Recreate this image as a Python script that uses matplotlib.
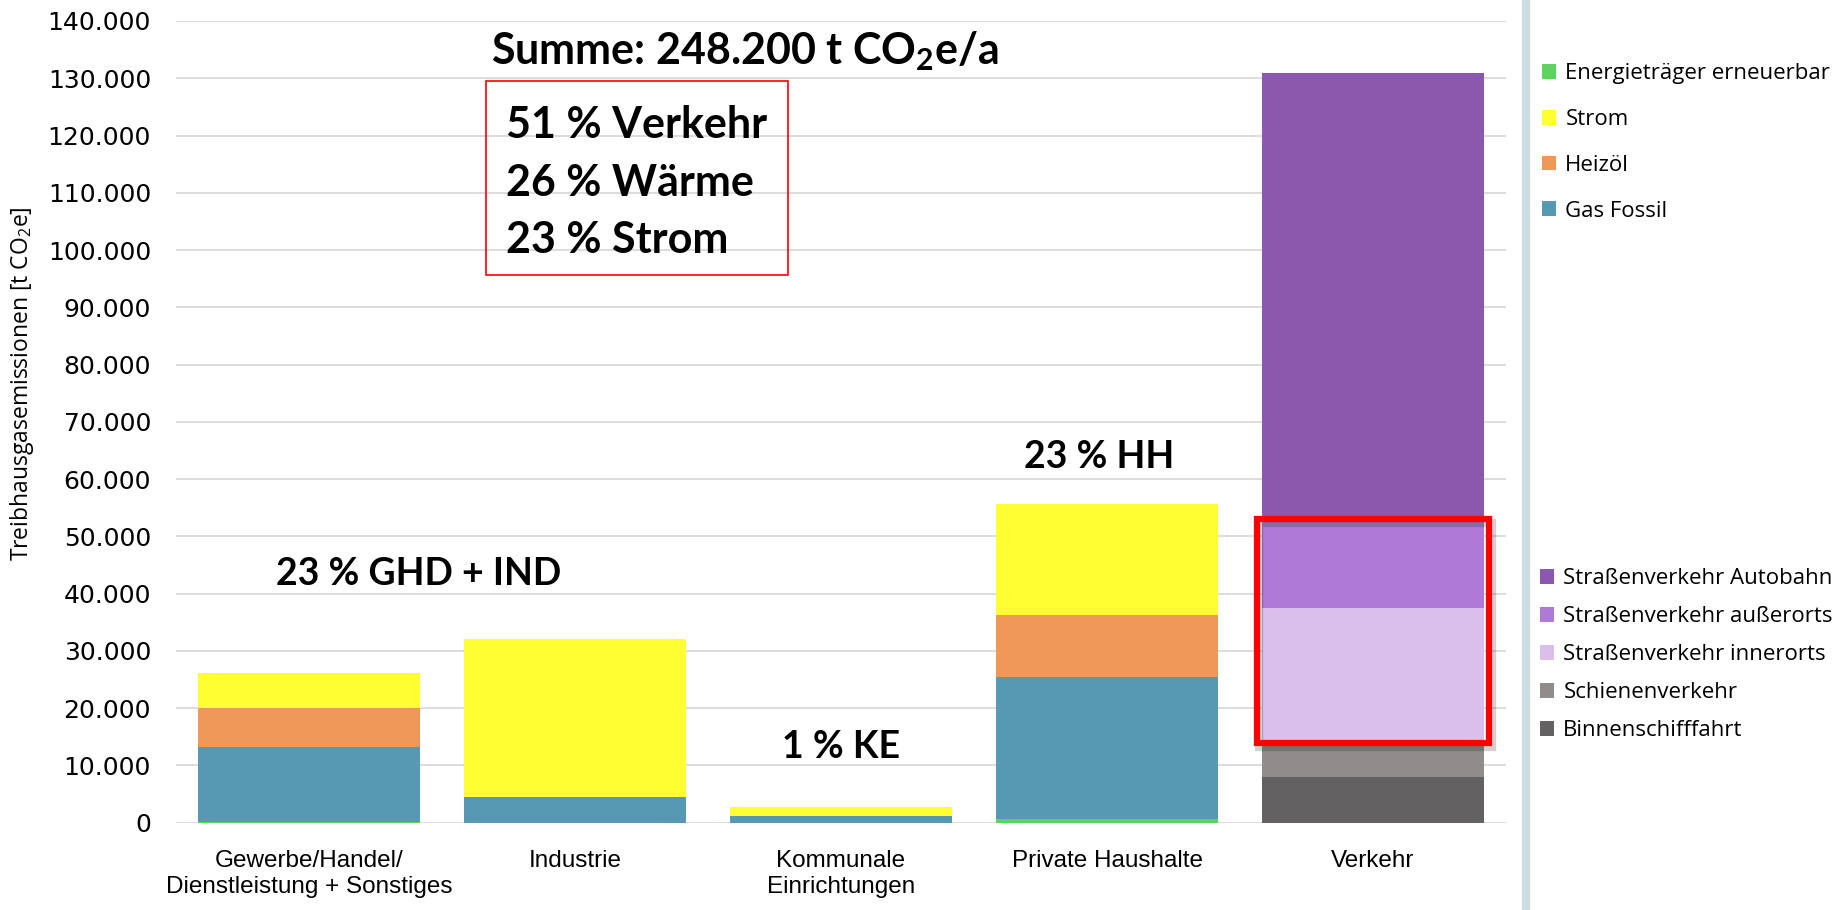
import numpy as np
import matplotlib
matplotlib.use("Agg")
import matplotlib.pyplot as plt
from matplotlib.patches import Rectangle
from matplotlib.lines import Line2D
from matplotlib.ticker import FuncFormatter

plt.rcParams['mathtext.fontset'] = 'custom'
plt.rcParams['mathtext.rm'] = 'Open Sans'
plt.rcParams['mathtext.bf'] = 'Lato:bold'

# Sektoren
categories = ["Gewerbe/Handel/\nDienstleistung + Sonstiges", "Industrie",
              "Kommunale\nEinrichtungen", "Private Haushalte", "Verkehr"]

# Energietraeger [t CO2e] (Verkehr separat)
erneuerbar = [200, 0, 0, 600, 0]
gas_fossil = [13100, 4550, 1200, 24900, 0]
heizoel = [6700, 0, 0, 10800, 0]
strom = [6200, 27550, 1500, 19400, 0]

# Verkehr [t CO2e]
binnenschiff = 7900
schiene = 6000
innerorts = 23600
ausserorts = 15500
autobahn = 78000

share_labels = ["23 % GHD + IND", "1 % KE", "23 % HH"]
summary_lines = ["51 % Verkehr", "26 % Wärme", "23 % Strom"]

fig = plt.figure(figsize=(18.35, 9.1), dpi=100)
ax = fig.add_axes([176/1835, 1-822.7/910, (1506-176)/1835, (822.7-21)/910])

x = np.arange(len(categories))
w = 0.835
bottom = np.zeros(len(categories))
energy = [("Energieträger erneuerbar", erneuerbar, "#5fd35f"),
          ("Gas Fossil", gas_fossil, "#5799b2"),
          ("Heizöl", heizoel, "#f09859"),
          ("Strom", strom, "#ffff33")]
handles1 = {}
for name, vals, col in energy:
    vals = np.array(vals, dtype=float)
    b = ax.bar(x[:4], vals[:4], w, bottom=bottom[:4], color=col, label=name, zorder=2)
    handles1[name] = b
    bottom += vals

traffic = [("Binnenschifffahrt", binnenschiff, "#636162"),
           ("Schienenverkehr", schiene, "#8f8c8b"),
           ("Straßenverkehr innerorts", innerorts, "#d9bfea"),
           ("Straßenverkehr außerorts", ausserorts, "#ae7ad6"),
           ("Straßenverkehr Autobahn", autobahn, "#8b58ae")]
handles2 = {}
vb = 0
for name, val, col in traffic:
    b = ax.bar(x[4], val, w, bottom=vb, color=col, label=name, zorder=2)
    handles2[name] = b
    vb += val

# roter Rahmen um Strassenverkehr inner-/ausserorts (mit leichtem Schatten)
box_lo = binnenschiff + schiene
box_hi = box_lo + innerorts + ausserorts
ax.add_patch(Rectangle((x[4] - w/2 - 0.01, box_lo - 600), w + 0.04, box_hi - box_lo,
                       fill=False, edgecolor="#000000", alpha=0.18, lw=6, zorder=3))
ax.add_patch(Rectangle((x[4] - w/2 - 0.02, box_lo), w + 0.04, box_hi - box_lo,
                       fill=False, edgecolor="#ff0000", lw=4.5, zorder=3))

ax.set_xlim(-0.5, 4.5)
ax.set_ylim(0, 140000)
ax.set_yticks(np.arange(0, 140001, 10000))
ax.yaxis.set_major_formatter(FuncFormatter(lambda v, p: f"{int(v):,}".replace(",", ".")))
ax.set_xticks(x)
ax.set_xticklabels(categories, fontfamily="Liberation Sans", fontsize=17.5, linespacing=1.2)
ax.tick_params(axis="x", length=0, pad=20)
ax.tick_params(axis="y", length=0, pad=18, labelsize=18)
ax.yaxis.grid(True, color="#d9d9d9", lw=1.3, zorder=0)
for s in ax.spines.values():
    s.set_visible(False)

ax.set_ylabel("Treibhausgasemissionen [t CO$_2$e]", fontfamily="Open Sans", fontsize=16.5)
ax.yaxis.set_label_coords(-0.105, 0.547)

# Beschriftungen
bold = dict(fontfamily="Lato", fontweight="bold", color="black")
ax.text(0.414, 41500, share_labels[0], ha="center", va="baseline", fontsize=27, **bold)
ax.text(2.0, 11300, share_labels[1], ha="center", va="baseline", fontsize=27, **bold)
ax.text(2.97, 62000, share_labels[2], ha="center", va="baseline", fontsize=27, **bold)
ax.text(1.64, 132500, "Summe: 248.200 t CO$_\\mathbf{2}$e/a", ha="center", va="baseline",
        fontsize=31, **bold)
for i, line in enumerate(summary_lines):
    ax.text(0.739, 119500 - i * 10000, line, ha="left", va="baseline", fontsize=31, **bold)
ax.add_patch(Rectangle((0.665, 95600), 1.80 - 0.665, 129500 - 95600,
                       fill=False, edgecolor="#ff0000", lw=1.2, zorder=3))

# Trennlinie Legende
fig.add_artist(Line2D([1526/1835, 1526/1835], [0, 1], color="#cadde2", lw=6))

leg1_names = ["Energieträger erneuerbar", "Strom", "Heizöl", "Gas Fossil"]
fig.legend([handles1[n] for n in leg1_names], leg1_names,
           loc="upper left", bbox_to_anchor=(1542/1835, 1 - 63/910),
           frameon=False, prop={"family": "Open Sans", "size": 16},
           handlelength=0.65, handleheight=0.65, handletextpad=0.4,
           labelspacing=1.12, borderpad=0, borderaxespad=0)
leg2_names = ["Straßenverkehr Autobahn", "Straßenverkehr außerorts", "Straßenverkehr innerorts",
              "Schienenverkehr", "Binnenschifffahrt"]
fig.legend([handles2[n] for n in leg2_names], leg2_names,
           loc="upper left", bbox_to_anchor=(1540/1835, 1 - 568/910),
           frameon=False, prop={"family": "Open Sans", "size": 16},
           handlelength=0.65, handleheight=0.65, handletextpad=0.4,
           labelspacing=0.77, borderpad=0, borderaxespad=0)

fig.savefig("out.png", dpi=100)
